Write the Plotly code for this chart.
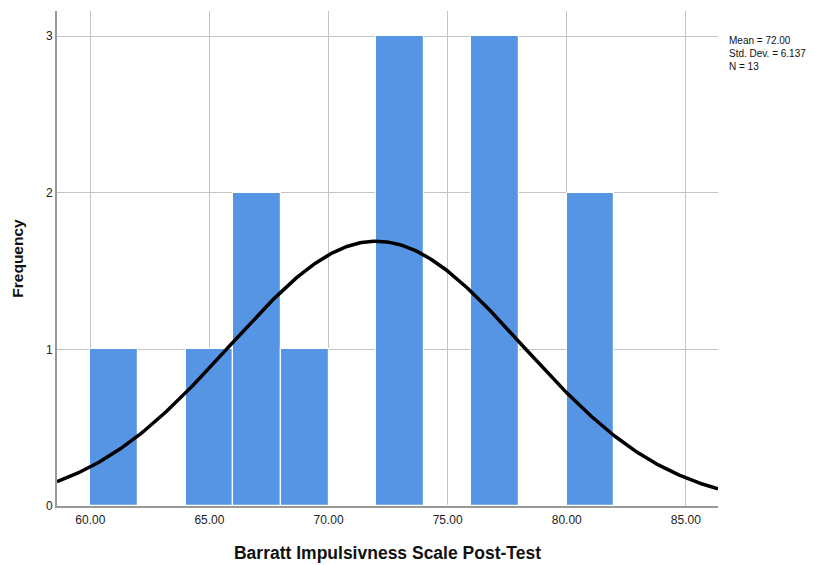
import numpy as np
import plotly.graph_objects as go

# Histogram bins (left edges) and counts
bin_left = [60, 62, 64, 66, 68, 70, 72, 74, 76, 78, 80]
counts = [1, 0, 1, 2, 1, 0, 3, 0, 3, 0, 2]
bin_width = 2

# Summary statistics shown in the legend box
mean_val = 72.00
sd_val = 6.137
n_val = 13

x_ticks = [60, 65, 70, 75, 80, 85]
x_tick_text = ["60.00", "65.00", "70.00", "75.00", "80.00", "85.00"]
y_ticks = [0, 1, 2, 3]

BAR_COLOR = "#5595E4"
FONT = "Liberation Sans, Arial, sans-serif"

fig = go.Figure()

fig.add_trace(go.Bar(
    x=[b + bin_width / 2 for b in bin_left],
    y=counts,
    width=bin_width,
    marker=dict(color=BAR_COLOR, line=dict(color="white", width=1.2)),
    hoverinfo="x+y",
    showlegend=False,
))

# Fitted normal curve scaled to frequency
xs = np.linspace(58.6, 86.35, 400)
ys = n_val * bin_width / (sd_val * np.sqrt(2 * np.pi)) * np.exp(-0.5 * ((xs - mean_val) / sd_val) ** 2)
fig.add_trace(go.Scatter(
    x=xs, y=ys, mode="lines",
    line=dict(color="black", width=3.5),
    showlegend=False, hoverinfo="skip",
))

fig.update_layout(
    width=826, height=565,
    margin=dict(l=57, r=108, t=11, b=59),
    paper_bgcolor="white", plot_bgcolor="white",
    font=dict(family=FONT, size=12, color="#222"),
    bargap=0,
    xaxis=dict(
        range=[58.6, 86.35], automargin=False,
        tickmode="array", tickvals=x_ticks, ticktext=x_tick_text,
        showgrid=True, gridcolor="#c4c4c4", gridwidth=1,
        showline=True, linecolor="#999999", linewidth=2,
        ticks="", zeroline=False, ticklabelstandoff=2,
        tickfont=dict(size=12, color="#222"),
        title=dict(text="<b>Barratt Impulsivness Scale Post-Test</b>",
                   font=dict(size=17.5, color="#111"), standoff=20),
    ),
    yaxis=dict(
        range=[0, 3.16], automargin=False,
        tickmode="array", tickvals=y_ticks,
        showgrid=True, gridcolor="#c4c4c4", gridwidth=1,
        showline=True, linecolor="#999999", linewidth=2,
        ticks="", zeroline=False,
        tickfont=dict(size=12, color="#222"),
        title=dict(text="<b>Frequency</b>", font=dict(size=15.5, color="#111"), standoff=18),
    ),
    annotations=[dict(
        xref="paper", yref="paper", x=1.013, y=0.955,
        xanchor="left", yanchor="top", align="left", showarrow=False,
        text=f"Mean = {mean_val:.2f}<br>Std. Dev. = {sd_val:.3f}<br>N = {n_val}",
        font=dict(size=10, color="#111", family=FONT),
    )],
)

fig.write_html("out.html")
